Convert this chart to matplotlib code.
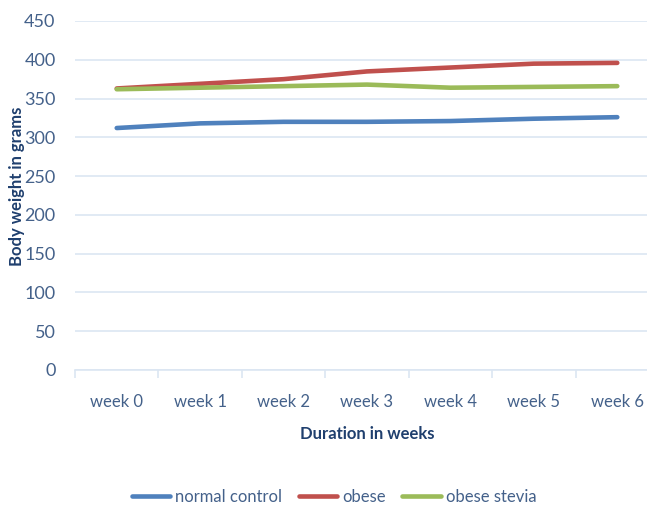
import matplotlib.pyplot as plt
import numpy as np

# data
weeks = ['week 0', 'week 1', 'week 2', 'week 3', 'week 4', 'week 5', 'week 6']
normal_control = [312, 318, 320, 320, 321, 324, 326]
obese = [363, 369, 375, 385, 390, 395, 396]
obese_stevia = [362, 364, 366, 368, 364, 365, 366]

series_names = ['normal control', 'obese', 'obese stevia']
colors = ['#4F81BD', '#C0504D', '#9BBB59']

plt.rcParams['font.family'] = ['Lato', 'DejaVu Sans']
txt_color = '#44618A'
lbl_color = '#1F3F6E'
grid_color = '#DCE6F2'

fig = plt.figure(figsize=(6.47, 5.08), dpi=100)
W, H = 647, 508
ax = fig.add_axes([75 / W, 138 / H, (659 - 75) / W, 349 / H])

x = np.arange(len(weeks))
for vals, name, c in zip([normal_control, obese, obese_stevia], series_names, colors):
    ax.plot(x, vals, color=c, lw=3.3, solid_capstyle='round', label=name)

ax.set_xlim(-0.5, len(weeks) - 0.5)
ax.set_ylim(0, 450)
ax.set_yticks(range(0, 451, 50))
ax.yaxis.grid(True, color=grid_color, lw=1.2)
ax.set_axisbelow(True)

# tick marks at category boundaries, labels at centres
ax.set_xticks(np.arange(-0.5, len(weeks), 1.0))
ax.set_xticklabels([])
ax.set_xticks(x, minor=True)
ax.set_xticklabels(weeks, minor=True)
ax.tick_params(axis='x', which='major', length=6, color=grid_color, width=1.2)
ax.tick_params(axis='x', which='minor', length=0, pad=17, labelsize=12, labelcolor=txt_color)
ax.tick_params(axis='y', length=0, pad=14, labelsize=13, labelcolor=txt_color)

for s in ['top', 'right', 'left']:
    ax.spines[s].set_visible(False)
ax.spines['bottom'].set_color(grid_color)
ax.spines['bottom'].set_linewidth(1.2)

ax.set_xlabel('Duration in weeks', fontsize=12, fontweight='bold', color=lbl_color, labelpad=12)
fig.text(17 / W, 1 - 186 / H, 'Body weight in grams', rotation=90, fontsize=12,
         fontweight='bold', color=lbl_color, ha='center', va='center')

handles, labels = ax.get_legend_handles_labels()
fig.legend(handles, labels, loc='center', bbox_to_anchor=(334 / W, 1 - 497 / H), ncol=3,
           frameon=False, fontsize=12, handlelength=2.3, handletextpad=0.3,
           columnspacing=1.0, labelcolor=txt_color)

fig.savefig('out.png', dpi=100)
